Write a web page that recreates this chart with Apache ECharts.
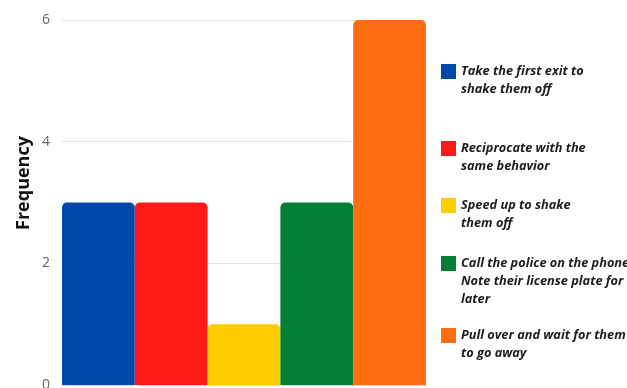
<!DOCTYPE html>
<html>
<head>
<meta charset="utf-8">
<script src="https://cdn.jsdelivr.net/npm/echarts@6/dist/echarts.min.js"></script>
<style>
  html, body { margin: 0; padding: 0; background: #fff; }
  #chart { width: 627px; height: 388px; }
</style>
</head>
<body>
<div id="chart"></div>
<script>
// Responses and how often each was chosen
const responses = [
  'Take the first exit to\nshake them off',
  'Reciprocate with the\nsame behavior',
  'Speed up to shake\nthem off',
  'Call the police on the phone\nNote their license plate for\nlater',
  'Pull over and wait for them\nto go away'
];
const frequencies = [3, 3, 1, 3, 6];
const barColors = ['#0048AA', '#FF1A1A', '#FFCC02', '#017F36', '#FF6D10'];
const yTicks = { min: 0, max: 6, interval: 2 };

// Top of each legend entry's colour square
const legendIconTops = [64, 141, 198, 256, 328];

const FONT = "'Open Sans', 'DejaVu Sans', sans-serif";
const LINE_H = 18;
const ICON = 15;

const series = responses.map((name, i) => ({
  name: name,
  type: 'bar',
  data: [frequencies[i]],
  barGap: '0%',
  barCategoryGap: '0%',
  itemStyle: { color: barColors[i], borderRadius: [5, 5, 0, 0] }
}));

// One legend block per response so each sits at its own height.
// Legend text is centred on its square, so blank lines are prepended
// to bring the first real line level with the square.
const legends = responses.map((name, i) => {
  const n = name.split('\n').length;
  const blank = n - 1;
  return {
    data: [name],
    formatter: (label) => '\n'.repeat(blank) + label,
    left: 441,
    top: legendIconTops[i] + ICON / 2 - (LINE_H * (n + blank)) / 2,
    orient: 'vertical',
    itemWidth: ICON,
    itemHeight: ICON,
    itemGap: 0,
    padding: 0,
    selectedMode: false,
    icon: 'rect',
    textStyle: {
      fontFamily: FONT,
      fontSize: 12.75,
      fontWeight: 'bold',
      fontStyle: 'italic',
      color: '#1c1c1c',
      lineHeight: LINE_H
    }
  };
});

const chart = echarts.init(document.getElementById('chart'), null, { renderer: 'canvas' });
chart.setOption({
  animation: false,
  backgroundColor: '#ffffff',
  grid: { left: 62, right: 201, top: 20, bottom: 3, containLabel: false, outerBoundsMode: 'none' },
  legend: legends,
  xAxis: {
    type: 'category',
    data: [''],
    axisLine: { show: true, lineStyle: { color: '#d9d9d9', width: 1 } },
    axisTick: { show: false },
    axisLabel: { show: false }
  },
  yAxis: {
    type: 'value',
    min: yTicks.min,
    max: yTicks.max,
    interval: yTicks.interval,
    axisLine: { show: false },
    axisTick: { show: false },
    axisLabel: { color: '#666666', fontSize: 14, fontFamily: FONT, margin: 12 },
    splitLine: { lineStyle: { color: '#e3e3e3', width: 1 } }
  },
  graphic: [{
    type: 'text',
    x: 24,
    y: 183,
    rotation: Math.PI / 2,
    style: {
      text: 'Frequency',
      fontFamily: FONT,
      fontSize: 18,
      fontWeight: 'bold',
      fill: '#111111',
      align: 'center',
      verticalAlign: 'middle'
    }
  }],
  series: series
});
</script>
</body>
</html>
